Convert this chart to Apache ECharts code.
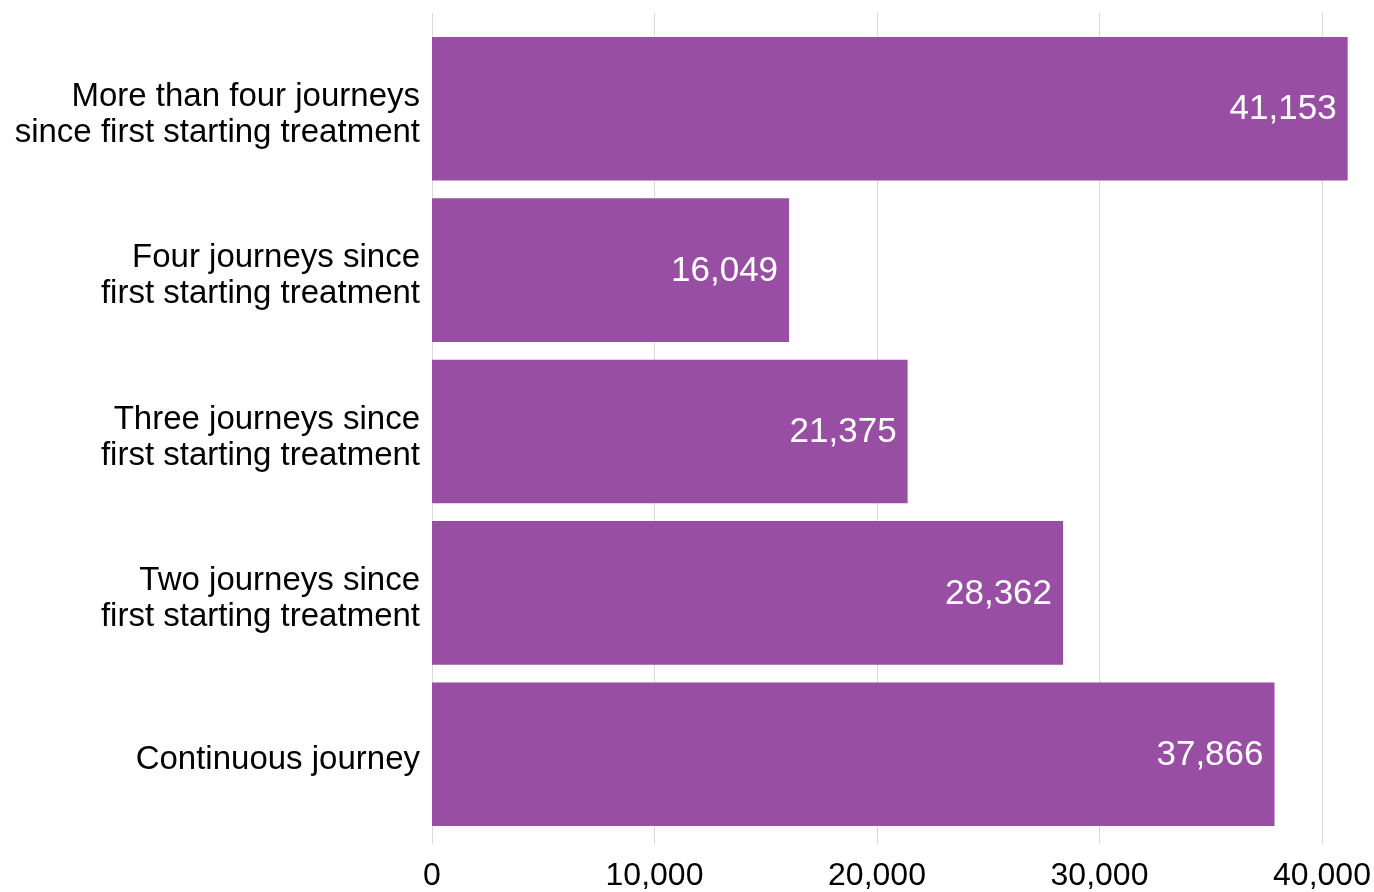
<!DOCTYPE html>
<html>
<head>
<meta charset="utf-8">
<script src="https://cdn.jsdelivr.net/npm/echarts@6/dist/echarts.min.js"></script>
<style>
  html, body { margin: 0; padding: 0; background: #ffffff; }
  #chart { width: 1374px; height: 892px; }
</style>
</head>
<body>
<div id="chart"></div>
<script>
// Journey categories, listed bottom to top as the category axis draws them
const categories = [
  'Continuous journey',
  'Two journeys since\nfirst starting treatment',
  'Three journeys since\nfirst starting treatment',
  'Four journeys since\nfirst starting treatment',
  'More than four journeys\nsince first starting treatment'
];
const counts = [37866, 28362, 21375, 16049, 41153];
const xTicks = { min: 0, max: 40000, interval: 10000 };

const FONT = '"Liberation Sans", Arial, sans-serif';
const BAR = '#984ea3';

const hiddenValueAxis = (grid) => ({
  type: 'value', gridIndex: grid,
  min: xTicks.min, max: xTicks.max, interval: xTicks.interval,
  axisLine: { show: false }, axisTick: { show: false },
  axisLabel: { show: false }, splitLine: { show: false }
});

const chart = echarts.init(document.getElementById('chart'), null, { renderer: 'canvas' });
chart.setOption({
  animation: false,
  backgroundColor: '#ffffff',
  textStyle: { fontFamily: FONT },
  grid: [
    // bars
    { left: 432, right: 52, top: 28, bottom: 57 },
    // gridlines and value axis labels, slightly taller than the bars' area
    { left: 432, right: 52, top: 13, bottom: 42 },
    // category labels, set a touch lower than the bar centres
    { left: 432, right: 52, top: 34, bottom: 51 }
  ],
  xAxis: [
    hiddenValueAxis(0),
    {
      type: 'value', gridIndex: 1,
      min: xTicks.min, max: xTicks.max, interval: xTicks.interval,
      axisLine: { show: false }, axisTick: { show: false },
      splitLine: { show: true, lineStyle: { color: '#d9d9d9', width: 1 } },
      axisLabel: {
        color: '#000', fontSize: 32, fontFamily: FONT, margin: 16,
        formatter: v => v.toLocaleString('en-US')
      }
    },
    hiddenValueAxis(2)
  ],
  yAxis: [
    {
      type: 'category', gridIndex: 0, data: categories,
      axisLine: { show: false }, axisTick: { show: false },
      splitLine: { show: false }, axisLabel: { show: false }
    },
    { type: 'value', gridIndex: 1, show: false },
    {
      type: 'category', gridIndex: 2, data: categories,
      axisLine: { show: false }, axisTick: { show: false },
      splitLine: { show: false },
      axisLabel: {
        color: '#000', fontSize: 33, lineHeight: 36, fontFamily: FONT,
        margin: 12, align: 'right'
      }
    }
  ],
  series: [{
    type: 'bar',
    xAxisIndex: 0, yAxisIndex: 0,
    data: counts,
    clip: false,
    barCategoryGap: '11%',
    itemStyle: { color: BAR },
    label: {
      show: true, position: 'insideRight', distance: 11, offset: [0, 1],
      color: '#ffffff', fontSize: 35, fontFamily: FONT,
      formatter: p => p.value.toLocaleString('en-US')
    }
  }]
});
</script>
</body>
</html>
